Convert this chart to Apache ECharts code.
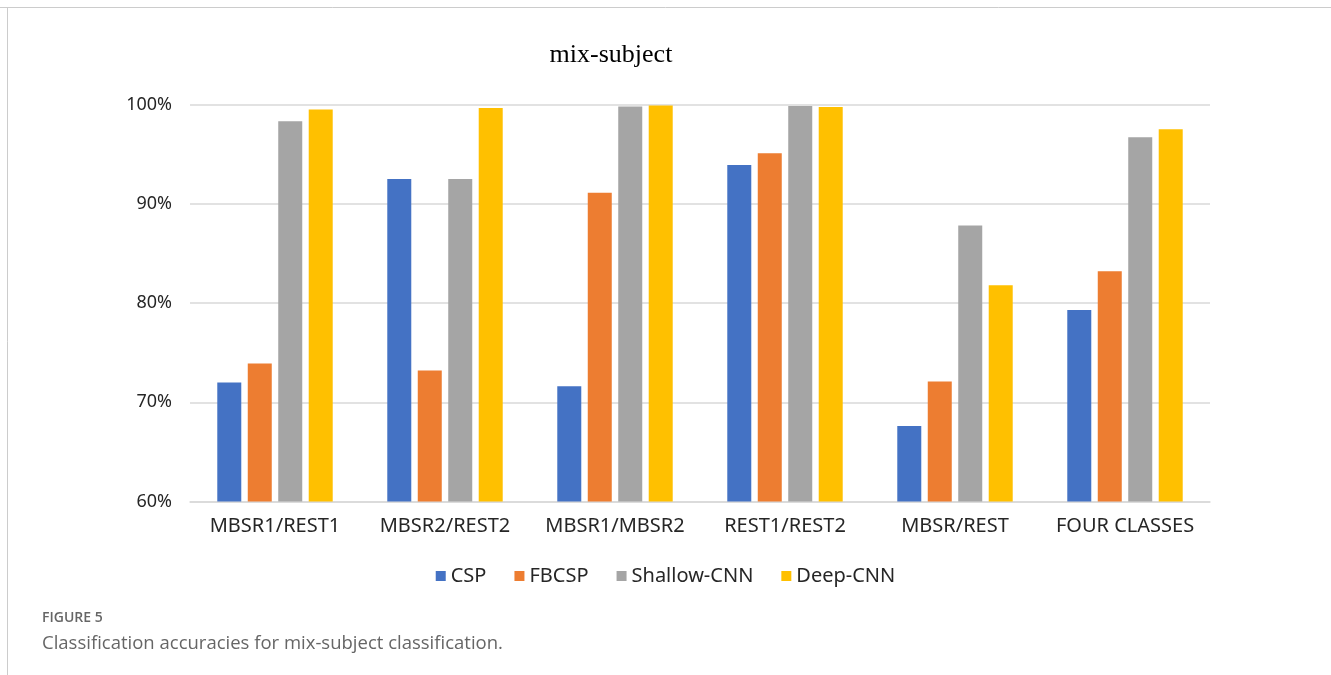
<!DOCTYPE html>
<html>
<head>
<meta charset="utf-8">
<script src="https://cdn.jsdelivr.net/npm/echarts@6/dist/echarts.min.js"></script>
<style>
html,body{margin:0;padding:0;background:#fff;}
#chart{width:1331px;height:675px;}
</style>
</head>
<body>
<div id="chart"></div>
<script>
const categories = ['MBSR1/REST1', 'MBSR2/REST2', 'MBSR1/MBSR2', 'REST1/REST2', 'MBSR/REST', 'FOUR CLASSES'];
const cspValues = [72.0, 92.5, 71.6, 93.9, 67.6, 79.3];
const fbcspValues = [73.9, 73.2, 91.1, 95.1, 72.1, 83.2];
const shallowValues = [98.3, 92.5, 99.8, 99.85, 87.8, 96.7];
const deepValues = [99.5, 99.65, 99.9, 99.75, 81.8, 97.5];
const seriesNames = ['CSP', 'FBCSP', 'Shallow-CNN', 'Deep-CNN'];
const colors = ['#4472C4', '#ED7D31', '#A5A5A5', '#FFC000'];

const chart = echarts.init(document.getElementById('chart'), null, {renderer: 'canvas'});
const allValues = [cspValues, fbcspValues, shallowValues, deepValues];
const series = allValues.map((vals, i) => ({
  name: seriesNames[i],
  type: 'bar',
  data: vals,
  barWidth: 24,
  barGap: '27%',
  itemStyle: {color: colors[i]},
  emphasis: {disabled: true}
}));

chart.setOption({
  animation: false,
  backgroundColor: '#fff',
  title: {
    text: 'mix-subject',
    left: 606,
    top: 37,
    textAlign: 'center',
    textStyle: {fontFamily: 'Liberation Serif', fontSize: 26, fontWeight: 'normal', color: '#000'}
  },
  legend: {
    data: seriesNames,
    left: 'center',
    top: 561,
    itemWidth: 10,
    itemHeight: 10,
    itemGap: 28,
    icon: 'rect',
    textStyle: {fontFamily: 'Noto Sans', fontSize: 20, color: '#262626'}
  },
  grid: {left: 190, right: 121, top: 104.5, bottom: 173.5},
  xAxis: {
    type: 'category',
    data: categories,
    axisLine: {lineStyle: {color: '#d9d9d9', width: 1.5}},
    axisTick: {show: false},
    axisLabel: {interval: 0, fontFamily: 'Noto Sans', fontSize: 20, color: '#262626', margin: 15}
  },
  yAxis: {
    type: 'value',
    min: 60,
    max: 100,
    interval: 10,
    axisLine: {show: false},
    axisTick: {show: false},
    splitLine: {lineStyle: {color: '#d9d9d9', width: 1.5}},
    axisLabel: {formatter: '{value}%', fontFamily: 'Noto Sans', fontSize: 18, color: '#262626', margin: 18}
  },
  graphic: [
    {type: 'line', shape: {x1: 0, y1: 7.5, x2: 1331, y2: 7.5}, style: {stroke: '#cccccc', lineWidth: 1}},
    {type: 'line', shape: {x1: 7.5, y1: 7.5, x2: 7.5, y2: 675}, style: {stroke: '#cccccc', lineWidth: 1}},
    {type: 'text', left: 42, top: 611, style: {text: 'FIGURE 5', fontFamily: 'Open Sans', fontSize: 14, fontWeight: 600, fill: '#666'}},
    {type: 'text', left: 42, top: 634, style: {text: 'Classification accuracies for mix-subject classification.', fontFamily: 'Open Sans', fontSize: 18.5, fill: '#666'}}
  ],
  series: series
});
</script>
</body>
</html>
